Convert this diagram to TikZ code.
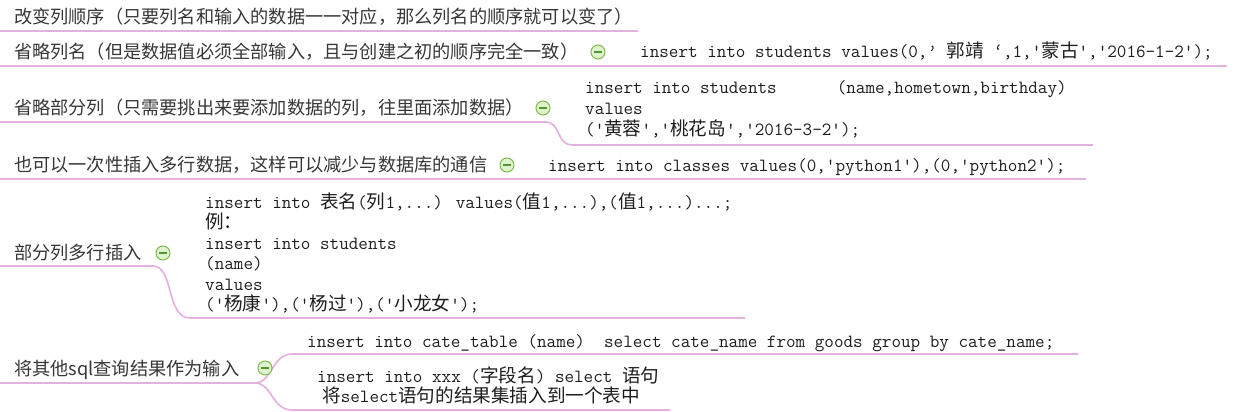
\documentclass[tikz,border=0pt]{standalone}
\usepackage{fontspec}
\newfontfamily\cjk{Noto Sans CJK SC}
\definecolor{branch}{RGB}{228,176,222}
\definecolor{txt}{RGB}{55,55,55}
\definecolor{codetxt}{RGB}{30,30,30}
\definecolor{foldline}{RGB}{128,188,78}
\definecolor{foldfill}{RGB}{222,242,204}
\definecolor{foldminus}{RGB}{84,150,52}
\tikzset{
  lbl/.style={anchor=base west, inner sep=0pt, text=txt, font=\cjk\fontsize{18.2}{20}\selectfont},
  codeline/.style={anchor=base west, inner sep=0pt, text=codetxt, font=\ttfamily\fontsize{18.6}{20}\selectfont},
  link/.style={draw=branch, line width=1.6pt},
  foldicon/.style={circle, inner sep=0pt, minimum size=14pt, draw=foldline, fill=foldfill, line width=1pt,
    path picture={\draw[foldminus, line width=1.3pt]
      ([xshift=-4pt]path picture bounding box.center) -- ([xshift=4pt]path picture bounding box.center);}}
}
\begin{document}
\begin{tikzpicture}[x=1pt,y=-1pt]
\useasboundingbox (0,0) rectangle (1240,412);
\fill[white] (0,0) rectangle (1240,412);

% connector end points
\coordinate (p1a) at (0,31);   \coordinate (p1b) at (638,31);
\coordinate (p2a) at (0,66);   \coordinate (p2b) at (1227,66);
\coordinate (p3a) at (0,122);  \coordinate (p3b) at (545,122);
\coordinate (p3c) at (573,145); \coordinate (p3d) at (1093,145);
\coordinate (p4a) at (0,179);  \coordinate (p4b) at (1086,179);
\coordinate (p5a) at (0,266);  \coordinate (p5b) at (153,266);
\coordinate (p5c) at (190,318); \coordinate (p5d) at (745,318);
\coordinate (p6a) at (0,383);  \coordinate (p6b) at (255,383);
\coordinate (p6c) at (292,354); \coordinate (p6d) at (1078,354);
\coordinate (p6e) at (292,410); \coordinate (p6f) at (670,410);

\draw[link] (p1a) -- (p1b);
\draw[link] (p2a) -- (p2b);
\draw[link] (p3a) -- (p3b) .. controls +(17,0) and +(-18,0) .. (p3c) -- (p3d);
\draw[link] (p4a) -- (p4b);
\draw[link] (p5a) -- (p5b) .. controls +(21,0) and +(-24,0) .. (p5c) -- (p5d);
\draw[link] (p6a) -- (p6b);
\draw[link] (p6b) .. controls +(17,0) and +(-20,0) .. (p6c) -- (p6d);
\draw[link] (p6b) .. controls +(17,0) and +(-20,0) .. (p6e) -- (p6f);

% labels
\node[lbl] (r1) at (14,23.8) {改变列顺序（只要列名和输入的数据一一对应，那么列名的顺序就可以变了）};
\node[lbl] (r2) at (14,58.8) {省略列名（但是数据值必须全部输入，且与创建之初的顺序完全一致）};
\node[lbl] (r3) at (14,114.3) {省略部分列（只需要挑出来要添加数据的列，往里面添加数据）};
\node[lbl] (r4) at (14,171.8) {也可以一次性插入多行数据，这样可以减少与数据库的通信};
\node[lbl] (r5) at (14,259.8) {部分列多行插入};
\node[lbl] (r6) at (14,375) {将其他sql查询结果作为输入};

% fold icons
\node[foldicon] (i2) at (598,52) {};
\node[foldicon] (i3) at (543,108) {};
\node[foldicon] (i4) at (507,165) {};
\node[foldicon] (i5) at (163,253) {};
\node[foldicon] (i6) at (265,368) {};

% code texts
\node[codeline] (c2) at (640,58) {insert into students values(0,’ {\cjk 郭靖} ‘,1,'{\cjk 蒙古}','2016-1-2');};

\node[codeline] (c3a) at (585,94) {insert into students\hspace{60pt}(name,hometown,birthday)};
\node[codeline] (c3b) at (585,114.5) {values};
\node[codeline] (c3c) at (585,135) {('{\cjk 黄蓉}','{\cjk 桃花岛}','2016-3-2');};

\node[codeline] (c4) at (548,171) {insert into classes values(0,'python1'),(0,'python2');};

\node[codeline] (c5a) at (205,208) {insert into {\cjk 表名}({\cjk 列}1,...) values({\cjk 值}1,...),({\cjk 值}1,...)...;};
\node[codeline] (c5b) at (205,228.5) {{\cjk 例：}};
\node[codeline] (c5c) at (205,249) {insert into students};
\node[codeline] (c5d) at (205,269.5) {(name)};
\node[codeline] (c5e) at (205,290) {values};
\node[codeline] (c5f) at (205,310.5) {('{\cjk 杨康}'),('{\cjk 杨过}'),('{\cjk 小龙女}');};

\node[codeline] (c6a) at (307,347) {insert into cate\_table (name)\ \ select cate\_name from goods group by cate\_name;};
\node[codeline] (c6b) at (317,382) {insert into xxx ({\cjk 字段名}) select {\cjk 语句}};
\node[codeline] (c6c) at (322,402) {{\cjk 将}select{\cjk 语句的结果集插入到一个表中}};
\end{tikzpicture}
\end{document}
